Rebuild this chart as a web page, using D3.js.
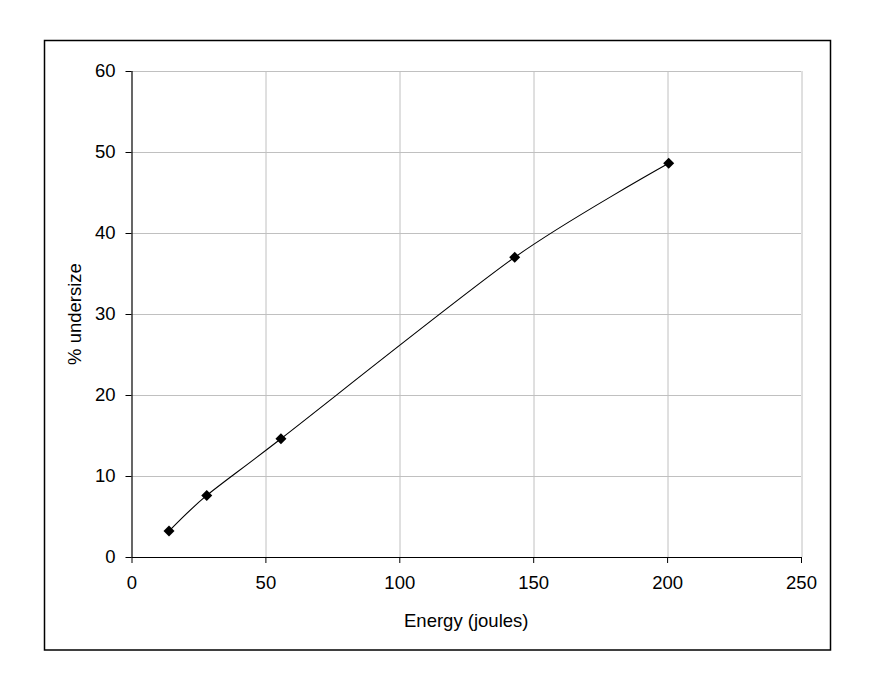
<!DOCTYPE html>
<html>
<head>
<meta charset="utf-8">
<script src="https://cdn.jsdelivr.net/npm/d3@7"></script>
<style>
  body { margin: 0; background: #fff; }
  text { font-family: "Liberation Sans", Arial, sans-serif; fill: #000; }
</style>
</head>
<body>
<div id="chart"></div>
<script>
var energy = [14, 28.1, 55.8, 143.1, 200.6];
var undersize = [3.2, 7.6, 14.6, 37.0, 48.6];
var xTicks = [0, 50, 100, 150, 200, 250];
var yTicks = [0, 10, 20, 30, 40, 50, 60];

var W = 873, H = 690;
var margin = { left: 131.5, right: 72, top: 71, bottom: 133 };
var width = W - margin.left - margin.right;
var height = H - margin.top - margin.bottom;

var svg = d3.select("#chart").append("svg")
    .attr("width", W)
    .attr("height", H);

// outer chart border
svg.append("rect")
    .attr("x", 44.5).attr("y", 40.5)
    .attr("width", 786).attr("height", 609.5)
    .attr("fill", "none")
    .attr("stroke", "#000")
    .attr("stroke-width", 1.5);

var g = svg.append("g")
    .attr("transform", "translate(" + margin.left + "," + margin.top + ")");

var x = d3.scaleLinear().domain([0, 250]).range([0, width]);
var y = d3.scaleLinear().domain([0, 60]).range([height, 0]);

// gridlines
g.append("g").selectAll("line").data(xTicks.slice(1)).enter().append("line")
    .attr("x1", function(d) { return Math.round(x(d)) + 0.5; })
    .attr("x2", function(d) { return Math.round(x(d)) + 0.5; })
    .attr("y1", 0).attr("y2", height)
    .attr("stroke", "#c0c0c0");
g.append("g").selectAll("line").data(yTicks.slice(1)).enter().append("line")
    .attr("y1", function(d) { return Math.round(y(d)) + 0.5; })
    .attr("y2", function(d) { return Math.round(y(d)) + 0.5; })
    .attr("x1", 0).attr("x2", width)
    .attr("stroke", "#c0c0c0");

var xAxisCall = d3.axisBottom(x).tickValues(xTicks).tickSize(6).tickPadding(13);
var yAxisCall = d3.axisLeft(y).tickValues(yTicks).tickSize(6).tickPadding(10);

var xAxis = g.append("g")
    .attr("class", "x axis")
    .attr("transform", "translate(0," + height + ")")
    .call(xAxisCall);
var yAxis = g.append("g")
    .attr("class", "y axis")
    .call(yAxisCall);

[xAxis, yAxis].forEach(function(a) {
  a.select(".domain").attr("stroke", "#000").attr("stroke-width", 1.2)
    .attr("d", a === xAxis ? "M0,0.5H" + width : "M0.5,0V" + height);
  a.selectAll(".tick line").attr("stroke", "#000");
  a.selectAll(".tick text").attr("font-size", "18.5px")
    .attr("font-family", "Liberation Sans, Arial, sans-serif");
});

// smoothed line through the points
var line = d3.line()
    .x(function(d, i) { return x(energy[i]); })
    .y(function(d) { return y(d); })
    .curve(d3.curveCardinal.tension(0.2));

g.append("path")
    .datum(undersize)
    .attr("d", line)
    .attr("fill", "none")
    .attr("stroke", "#000")
    .attr("stroke-width", 1.1);

// diamond markers
g.selectAll(".pt").data(undersize).enter().append("path")
    .attr("class", "pt")
    .attr("transform", function(d, i) { return "translate(" + x(energy[i]) + "," + y(d) + ")"; })
    .attr("d", "M0,-5.5L5.5,0L0,5.5L-5.5,0Z")
    .attr("fill", "#000");

// axis titles
svg.append("text")
    .attr("x", margin.left + width / 2)
    .attr("y", 627)
    .attr("text-anchor", "middle")
    .attr("font-size", "18.5px")
    .text("Energy (joules)");

svg.append("text")
    .attr("transform", "translate(81," + (margin.top + height / 2) + ") rotate(-90)")
    .attr("text-anchor", "middle")
    .attr("font-size", "18.5px")
    .text("% undersize");
</script>
</body>
</html>
